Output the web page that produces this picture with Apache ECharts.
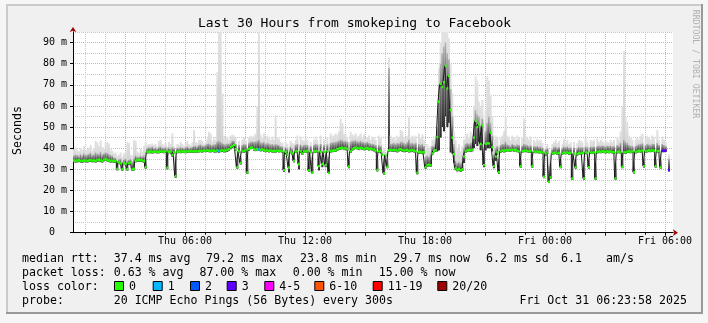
<!DOCTYPE html>
<html><head><meta charset="utf-8">
<script src="https://cdn.jsdelivr.net/npm/echarts@6/dist/echarts.min.js"></script>
<style>html,body{margin:0;padding:0;background:#f6f6f6}#c{width:708px;height:323px}</style>
</head><body><div id="c"></div>
<script>
// ---------------- data ----------------
const START_HOUR = 0.4;          // Thu 00:24
const END_HOUR = 30.4;           // Fri 06:24
const STEP_HOURS = 1 / 12;       // 300 s steps
const xMajorHours = [3,6,9,12,15,18,21,24,27,30];
const xMinorHours = [1,2,4,5,7,8,10,11,13,14,16,17,19,20,22,23,25,26,28,29];
const xLabelHours = [6,12,18,24,30];
const xLabelText = ['Thu 06:00','Thu 12:00','Thu 18:00','Fri 00:00','Fri 06:00'];
const yMajor = [0,10,20,30,40,50,60,70,80,90];
const yMinor = [5,15,25,35,45,55,65,75,85,95];

const medianMs = [
34.2,34.0,34.1,34.3,34.0,33.9,34.2,34.1,34.0,34.2,34.3,34.1,
34.2,34.0,34.3,34.5,34.2,34.0,34.6,35.0,34.5,34.2,34.0,34.1,
34.0,33.8,30.2,33.2,32.8,30.0,33.0,32.5,30.1,32.8,33.2,30.0,
30.3,34.0,34.4,34.5,34.3,34.2,33.8,31.0,38.2,38.3,38.4,38.3,
38.3,38.4,38.2,38.3,38.5,38.4,38.3,38.5,30.8,38.3,38.4,36.8,
38.0,26.8,38.3,38.4,38.3,38.5,38.4,38.3,38.5,38.4,38.6,38.5,
38.5,38.6,38.4,38.7,38.8,38.6,38.9,38.8,39.0,38.8,38.7,38.9,
38.8,38.6,38.9,38.7,38.8,39.0,38.8,38.9,39.2,39.5,40.5,41.0,
41.5,39.5,31.0,38.5,33.0,38.8,38.5,39.0,28.5,39.5,40.2,40.3,
39.5,39.3,39.6,39.4,39.2,39.5,39.0,38.8,39.0,38.7,38.9,38.6,
38.8,38.6,38.9,38.7,38.8,38.5,29.6,38.2,37.0,30.8,38.3,37.5,
34.0,38.4,38.6,32.5,38.5,37.5,38.6,38.4,38.7,29.5,38.2,28.5,
38.4,38.6,38.5,31.5,38.3,32.5,38.4,32.0,38.5,28.3,38.6,38.8,
38.9,39.0,39.5,39.8,40.0,40.2,39.8,40.0,39.6,31.3,38.5,39.5,
40.0,40.3,40.1,39.8,40.2,40.0,39.7,39.9,40.1,39.6,39.8,39.5,
39.3,38.8,29.7,38.5,38.7,37.0,28.1,36.8,31.2,38.9,39.2,39.0,
39.2,39.0,38.8,39.3,39.5,39.1,38.9,39.0,39.2,38.8,38.9,39.1,
38.8,38.5,28.4,38.2,38.3,38.0,38.1,31.0,32.0,32.2,32.0,37.5,
38.8,39.0,45.3,62.0,70.4,69.0,71.2,79.0,68.3,74.2,58.1,45.0,
37.2,30.5,29.8,30.2,29.6,30.0,36.0,38.5,39.0,39.2,39.0,39.3,
45.0,53.0,50.0,51.3,42.0,50.8,32.0,42.0,42.3,42.3,47.3,40.5,
31.5,36.0,38.0,28.6,38.5,39.0,38.8,39.0,39.2,38.9,39.1,39.3,
39.0,39.2,38.8,38.5,31.5,38.6,38.8,38.9,38.7,38.5,38.6,31.5,
38.5,38.3,38.4,38.2,38.3,38.0,26.5,37.5,38.0,24.1,26.2,37.5,
37.8,38.0,37.5,37.8,31.2,37.5,38.0,37.8,38.0,37.6,37.8,25.7,
37.5,31.0,37.2,37.8,37.5,37.8,25.7,38.0,37.8,31.0,38.0,37.9,
38.0,25.7,38.2,38.4,38.3,38.5,38.4,38.2,38.5,38.3,38.4,38.2,
38.0,25.7,38.2,38.4,38.0,31.2,38.0,38.0,38.4,38.5,38.3,38.5,
28.6,38.2,38.5,38.8,38.6,38.9,31.5,38.5,38.7,39.0,38.8,39.0,
38.8,31.5,38.6,38.7,31.0,38.8,38.8,38.9,null,29.7,null,null
];

const smokeLoMs = [
33.4,33.2,33.3,33.5,33.2,33.1,33.4,33.3,33.2,33.4,33.5,33.3,
33.4,33.2,33.5,33.7,33.4,33.2,33.8,34.2,33.7,33.4,33.2,33.3,
33.2,33.0,29.5,32.5,32.0,29.3,32.3,31.8,29.4,32.0,32.5,29.3,
29.5,33.3,33.6,33.7,33.5,33.4,33.0,30.3,37.5,37.6,37.6,37.5,
37.6,37.7,37.5,37.6,37.8,37.7,37.6,37.8,30.0,37.6,37.7,36.0,
37.4,26.0,37.6,37.7,37.6,37.8,37.7,37.6,37.8,37.7,37.9,37.8,
37.8,37.9,37.7,38.0,38.1,37.9,38.2,38.1,38.3,38.1,38.0,38.2,
38.0,37.9,38.1,37.9,38.1,38.2,38.0,38.1,38.3,38.7,39.5,40.0,
40.5,38.7,30.3,37.8,32.3,38.0,37.8,38.2,27.8,38.7,39.5,39.6,
38.8,38.6,38.9,38.7,38.5,38.8,38.3,38.1,38.3,38.0,38.2,37.9,
38.0,37.9,38.2,38.0,38.1,37.8,28.8,37.5,36.3,28.5,37.6,36.8,
33.3,37.7,37.9,30.0,37.8,36.8,37.9,37.7,38.0,28.8,37.6,28.0,
37.7,37.9,37.8,29.5,37.6,31.0,37.7,31.0,37.8,27.8,37.9,38.1,
38.2,38.3,38.8,39.1,39.3,39.5,39.1,39.3,38.9,30.5,37.8,38.8,
39.3,39.6,39.4,39.1,39.5,39.3,39.0,39.2,39.4,38.9,39.1,38.8,
38.5,38.0,29.0,37.8,38.0,36.3,27.5,36.0,30.5,38.2,38.5,38.3,
38.4,38.2,38.0,38.5,38.7,38.3,38.1,38.2,38.4,38.0,38.1,38.3,
38.0,37.8,27.6,37.4,37.5,37.2,37.3,30.2,31.2,31.4,31.2,36.7,
38.0,38.2,38.5,39.0,45.0,50.0,48.0,55.0,50.0,52.0,38.0,37.5,
33.0,29.6,29.0,29.4,28.8,29.2,33.0,37.8,38.3,38.5,38.2,38.5,
40.0,42.0,41.0,43.0,39.0,42.0,31.0,39.0,40.0,40.0,40.0,38.5,
30.5,34.0,37.0,27.8,37.8,38.2,38.0,38.3,38.5,38.2,38.4,38.6,
38.3,38.5,38.1,37.8,30.8,37.9,38.1,38.2,38.0,37.8,37.9,30.8,
37.8,37.6,37.7,37.5,37.6,37.3,25.8,36.5,37.3,23.5,25.5,36.8,
37.1,37.3,36.8,37.1,30.5,36.8,37.3,37.1,37.3,36.9,37.1,25.0,
36.8,30.3,36.5,37.1,36.8,37.1,25.0,37.3,37.1,30.3,37.3,37.2,
37.3,25.0,37.5,37.7,37.6,37.8,37.7,37.5,37.8,37.6,37.7,37.5,
37.3,25.0,37.5,37.7,37.3,30.5,37.3,37.3,37.7,37.8,37.6,37.8,
28.0,37.5,37.8,38.1,37.9,38.2,30.8,37.8,38.0,38.3,38.1,38.3,
38.1,30.8,37.9,38.0,30.3,38.1,38.1,38.2,null,29.0,null,null
];

const smokeDarkMs = [
36.5,37.0,36.8,36.2,37.2,36.5,37.5,36.8,37.0,37.3,37.8,36.9,
37.0,38.0,37.5,37.2,38.2,37.0,37.5,38.0,37.8,37.2,36.8,36.5,
35.5,35.5,34.0,34.8,35.0,33.5,34.5,35.0,34.0,34.5,34.8,33.5,
35.0,36.5,36.0,35.8,36.5,36.0,36.5,35.0,40.0,40.5,40.2,40.8,
40.0,40.3,39.8,40.5,40.8,40.2,40.0,40.5,40.0,40.3,39.8,40.5,
40.0,36.0,40.2,40.0,40.5,40.3,40.0,40.4,40.8,40.2,40.3,40.6,
41.0,41.2,40.8,41.5,41.8,41.2,41.0,41.5,42.0,42.2,41.8,41.5,
41.8,42.0,43.0,43.5,43.0,42.5,42.0,41.8,42.2,42.0,42.5,43.5,
43.5,42.0,36.0,41.5,36.0,41.5,42.0,41.8,36.0,42.5,43.0,43.2,
43.0,43.2,43.5,44.0,42.8,42.5,43.0,42.0,42.5,42.2,41.8,42.0,
41.5,42.0,41.8,41.5,41.0,40.8,36.0,40.5,40.0,36.5,40.8,40.0,
38.0,41.5,42.0,37.0,41.8,41.0,41.5,41.8,41.5,36.0,41.0,36.0,
41.5,42.0,41.8,36.5,42.0,37.0,41.5,37.0,41.8,36.0,42.5,42.8,
42.8,43.0,43.2,43.5,44.0,43.8,43.2,43.5,43.0,36.0,43.0,43.5,
43.5,43.8,43.2,43.0,43.5,43.0,42.8,42.5,43.0,42.5,42.2,42.0,
42.0,41.5,35.0,41.5,41.0,38.0,35.0,36.5,35.0,78.0,42.0,42.2,
42.5,42.0,42.5,42.2,43.0,43.0,42.5,42.0,42.8,44.0,42.2,42.5,
42.0,42.5,35.0,42.0,41.5,42.0,41.0,36.0,36.5,36.0,37.0,41.0,
41.0,42.0,50.0,70.0,80.0,85.0,88.0,90.0,85.0,82.0,68.0,55.0,
42.0,34.0,33.0,33.5,33.0,33.5,40.0,42.0,42.5,42.0,42.5,42.8,
52.0,58.0,56.0,55.0,50.0,54.0,40.0,48.0,52.0,55.0,52.0,46.0,
37.0,40.0,41.0,35.0,41.5,42.0,42.0,43.0,41.8,41.5,41.0,42.0,
41.5,41.2,41.8,41.5,35.0,41.2,42.0,41.8,41.5,41.0,41.3,35.0,
41.0,40.8,41.0,40.5,40.8,40.2,34.0,39.5,40.0,32.0,33.0,39.5,
40.5,40.8,40.2,40.5,34.5,40.0,40.8,40.5,40.8,40.2,40.4,33.0,
40.3,35.0,40.0,40.6,40.4,40.5,33.0,40.8,40.5,35.0,40.8,40.6,
40.8,33.0,41.0,41.2,41.0,41.3,41.0,40.8,41.2,41.0,41.2,40.8,
41.0,33.0,41.5,41.2,42.5,38.0,44.0,43.0,42.5,41.5,41.2,41.0,
34.0,41.0,41.5,41.8,42.0,42.3,35.0,41.5,42.0,41.8,41.5,42.0,
42.0,35.0,42.5,41.5,34.5,42.0,41.5,41.0,null,35.0,null,null
];

const smokeHiMs = [
39.5,40.5,39.0,38.5,40.0,39.2,41.0,38.8,39.5,40.2,41.5,39.0,
40.0,43.5,42.8,41.0,43.7,40.5,39.8,42.5,43.0,42.2,39.5,38.8,
37.5,38.0,36.5,37.0,38.0,36.0,37.5,38.5,43.0,42.5,37.0,36.5,
44.0,43.5,38.5,37.8,40.0,38.5,41.0,43.0,41.5,42.0,41.8,42.3,
41.5,42.0,41.0,43.5,44.0,42.0,41.5,42.5,41.0,43.0,42.0,47.2,
41.0,38.5,42.0,41.5,43.0,42.0,41.0,42.5,43.5,42.0,41.5,42.8,
48.6,43.0,42.5,44.0,44.0,43.5,42.0,43.0,44.5,47.8,47.0,43.5,
45.0,44.0,76.0,95.0,95.0,66.0,46.0,44.5,45.5,44.0,46.0,46.5,
46.0,45.0,40.0,43.5,39.0,44.0,45.0,44.0,38.5,45.0,46.0,45.5,
46.0,47.0,60.0,95.0,46.5,45.0,47.0,44.5,46.0,45.0,44.0,45.5,
44.0,55.7,45.0,44.5,43.0,42.5,40.0,43.0,42.0,40.0,43.5,42.5,
42.0,44.0,46.0,41.0,45.5,44.0,43.5,45.0,44.0,38.5,43.0,38.0,
44.0,45.5,44.0,39.0,46.0,40.0,44.5,39.5,45.0,38.5,47.0,46.0,
46.0,47.0,46.5,48.0,54.0,52.0,47.0,46.5,45.0,38.5,47.8,46.5,
46.0,47.0,45.5,46.0,47.0,45.0,46.5,44.5,45.0,46.0,44.0,45.5,
45.0,44.0,38.0,46.0,45.0,38.5,40.0,37.5,38.0,83.0,46.0,45.0,
45.0,44.0,46.0,45.0,48.6,48.0,45.0,44.5,46.0,54.7,45.0,46.0,
45.0,46.0,39.0,47.0,45.0,46.5,44.0,40.0,42.0,40.5,41.0,44.0,
44.0,46.0,55.0,78.0,90.0,95.0,95.0,95.0,95.0,92.0,80.0,66.0,
48.0,44.0,40.0,42.0,38.5,41.0,44.0,46.0,47.0,45.0,48.0,46.0,
60.0,74.0,72.0,62.0,60.0,62.8,48.0,58.0,74.0,72.0,65.0,55.0,
44.0,46.0,45.0,38.0,45.0,46.0,48.0,55.0,46.0,45.0,44.0,46.0,
45.0,44.0,46.0,45.0,39.0,45.0,54.0,46.0,45.0,44.0,45.5,38.5,
44.0,43.0,44.5,43.5,44.0,42.5,38.0,41.0,42.0,36.0,38.0,42.0,
43.0,44.0,42.5,43.5,38.0,42.0,44.5,43.0,44.0,42.0,43.0,37.0,
43.0,38.0,42.5,44.0,43.5,43.0,37.0,44.5,43.0,38.0,44.0,43.5,
44.0,37.0,44.5,43.0,44.0,43.5,42.5,44.0,43.0,42.5,44.0,43.0,
44.0,37.0,45.0,44.0,48.0,60.0,86.0,55.0,52.5,46.0,45.0,44.0,
37.0,44.0,45.0,44.0,46.0,47.0,39.0,44.5,46.0,45.0,44.0,46.0,
45.0,38.0,48.6,44.0,37.5,45.5,44.0,43.0,null,37.0,null,null
];

// steps with packet loss (index into the arrays above) and lost pings
const lossSteps  = [87, 111, 353, 354, 355, 357];
const lossCounts = [1,  1,   3,   3,   3,   3];

const lossLegendLabels = ['0','1','2','3','4-5','6-10','11-19','20/20'];
const lossColors = ['#26ff00','#00b8ff','#0059ff','#5e00ff','#ff00ff','#ff5500','#ff0000','#a10000'];

const titleText = 'Last 30 Hours from smokeping to Facebook';
const yAxisTitle = 'Seconds';
const watermark = 'RRDTOOL / TOBI OETIKER';
const rttRow = ['median rtt:','37.4 ms avg','79.2 ms max','23.8 ms min','29.7 ms now','6.2 ms sd','6.1','am/s'];
const lossRow = ['packet loss:','0.63 % avg','87.00 % max','0.00 % min','15.00 % now'];
const colorRowLabel = 'loss color:';
const probeRow = ['probe:','20 ICMP Echo Pings (56 Bytes) every 300s','Fri Oct 31 06:23:58 2025'];

// ---------------- build ----------------
function lossBucket(n){
  if (n === 0) return 0; if (n === 1) return 1; if (n === 2) return 2; if (n === 3) return 3;
  if (n <= 5) return 4; if (n <= 10) return 5; if (n <= 19) return 6; return 7;
}
const lossByStep = medianMs.map(() => 0);
lossSteps.forEach((s, k) => { lossByStep[s] = lossCounts[k]; });

const smokeData = medianMs.map((m, i) => [START_HOUR + i * STEP_HOURS, smokeLoMs[i], smokeDarkMs[i], smokeHiMs[i]]);
const lineData = medianMs.map((m, i) => [START_HOUR + (i + 0.5) * STEP_HOURS, m]);
const markData = medianMs.map((m, i) => [START_HOUR + i * STEP_HOURS, m, lossBucket(lossByStep[i])]);

const MONO = '"DejaVu Sans Mono", "Liberation Mono", monospace';

function smokeItem(params, api) {
  const t = api.value(0), lo = api.value(1), dk = api.value(2), hi = api.value(3);
  if (isNaN(lo) || isNaN(hi)) return null;
  const a = api.coord([t, hi]);
  const b = api.coord([t + STEP_HOURS, lo]);
  const c = api.coord([t, dk]);
  const w = b[0] - a[0] + 0.35;
  return { type: 'group', children: [
    { type: 'rect', shape: { x: a[0], y: a[1], width: w, height: b[1] - a[1] },
      style: { fill: new echarts.graphic.LinearGradient(0, 0, 0, 1, [
        { offset: 0, color: '#e2e2e2' }, { offset: 1, color: '#cdcdcd' }]) } },
    { type: 'rect', shape: { x: a[0], y: c[1], width: w, height: b[1] - c[1] },
      style: { fill: new echarts.graphic.LinearGradient(0, 0, 0, 1, [
        { offset: 0, color: '#b4b4b4' }, { offset: 0.45, color: '#6a6a6a' }, { offset: 1, color: '#2a2a2a' }]) } }
  ]};
}
function markItem(params, api) {
  const t = api.value(0), m = api.value(1), c = api.value(2);
  if (isNaN(m)) return null;
  const a = api.coord([t, m]);
  const b = api.coord([t + STEP_HOURS, m]);
  return { type: 'rect', shape: { x: a[0], y: a[1] - 1.2, width: b[0] - a[0] + 0.3, height: 2.4 },
           style: { fill: lossColors[c] } };
}

const graphics = [
  { type: 'rect', z: -20, silent: true, shape: { x: 0, y: 0, width: 708, height: 323 }, style: { fill: '#f6f6f6' } },
  { type: 'rect', z: -19, silent: true, shape: { x: 6, y: 4, width: 697, height: 310 }, style: { fill: '#f0f0f0' } },
  { type: 'rect', z: -18, silent: true, shape: { x: 6, y: 4, width: 697, height: 2 }, style: { fill: '#cbcbcb' } },
  { type: 'rect', z: -18, silent: true, shape: { x: 6, y: 4, width: 2, height: 310 }, style: { fill: '#cbcbcb' } },
  { type: 'rect', z: -18, silent: true, shape: { x: 6, y: 312, width: 697, height: 2 }, style: { fill: '#999999' } },
  { type: 'rect', z: -18, silent: true, shape: { x: 701, y: 4, width: 2, height: 310 }, style: { fill: '#999999' } },
  { type: 'text', x: 354.5, y: 23.2, style: { text: titleText, font: '13px ' + MONO, fill: '#000', align: 'center', verticalAlign: 'middle' } },
  { type: 'text', x: 17.7, y: 130.5, rotation: Math.PI / 2, style: { text: yAxisTitle, font: '11.6px ' + MONO, fill: '#000', align: 'center', verticalAlign: 'middle' } },
  { type: 'text', x: 695, y: 64, rotation: -Math.PI / 2, style: { text: watermark, font: '8.2px ' + MONO, fill: '#b0b0b0', align: 'center', verticalAlign: 'middle' } }
];
const LEG_FONT = '11.6px ' + MONO;
function addRow(texts, xs, y) {
  texts.forEach((t, k) => graphics.push({ type: 'text', x: xs[k], y: y,
    style: { text: t, font: LEG_FONT, fill: '#000', align: 'left', verticalAlign: 'middle' } }));
}
addRow(rttRow, [22, 113.7, 206, 300, 393.3, 486, 561, 606], 259.2);
addRow(lossRow, [22, 113.7, 199.4, 292.7, 378.7], 273.2);
addRow([colorRowLabel], [22], 287.1);
addRow(probeRow, [22, 113.7, 519.4], 301.2);
const swX = [114, 152.7, 190, 226.7, 264.3, 314.3, 372.7, 437.3];
lossLegendLabels.forEach((lab, k) => {
  graphics.push({ type: 'rect', shape: { x: swX[k] + 0.5, y: 281.5, width: 9, height: 9 },
    style: { fill: lossColors[k], stroke: '#000', lineWidth: 1 } });
  graphics.push({ type: 'text', x: swX[k] + 15, y: 287.1,
    style: { text: lab, font: LEG_FONT, fill: '#000', align: 'left', verticalAlign: 'middle' } });
});

const axisCommonX = { type: 'value', min: START_HOUR, max: END_HOUR, position: 'bottom', gridIndex: 0 };
const axisCommonY = { type: 'value', min: 0, max: 95, position: 'left', gridIndex: 0 };

const option = {
  animation: false,
  backgroundColor: 'transparent',
  grid: { left: 73, top: 32, width: 600, height: 200.7, show: true, backgroundColor: '#ffffff', borderWidth: 0 },
  graphic: graphics,
  xAxis: [
    Object.assign({}, axisCommonX, {
      axisLine: { show: true, lineStyle: { color: '#000', width: 1 } },
      axisTick: { show: true, length: 3, customValues: xMajorHours, lineStyle: { color: '#000' } },
      axisLabel: { show: true, customValues: xLabelHours, margin: 4,
        formatter: v => xLabelText[xLabelHours.indexOf(Math.round(v))] || '',
        fontFamily: MONO, fontSize: 10, color: '#000' },
      splitLine: { show: true, lineStyle: { color: '#ff9d9d', width: 1, type: [1, 1] } }
    }),
    Object.assign({}, axisCommonX, {
      axisLine: { show: false },
      axisTick: { show: true, length: 2, customValues: xMinorHours, lineStyle: { color: '#000' } },
      axisLabel: { show: false },
      splitLine: { show: true, lineStyle: { color: '#c6c6c6', width: 1, type: [1, 1] } }
    }),
    Object.assign({}, axisCommonX, {
      z: -1,
      axisLine: { show: true, symbol: ['none', 'arrow'], symbolSize: [5, 5], symbolOffset: [0, 5],
        lineStyle: { color: '#a00000', width: 1 } },
      axisTick: { show: false }, axisLabel: { show: false }, splitLine: { show: false }
    })
  ],
  yAxis: [
    Object.assign({}, axisCommonY, {
      axisLine: { show: true, lineStyle: { color: '#000', width: 1 } },
      axisTick: { show: true, length: 3, customValues: yMajor, lineStyle: { color: '#000' } },
      axisLabel: { show: true, customValues: yMajor, margin: 6,
        formatter: v => (v === 0 ? '0  ' : v + ' m'),
        fontFamily: MONO, fontSize: 10, color: '#000' },
      splitLine: { show: true, lineStyle: { color: '#ff9d9d', width: 1, type: [1, 1] } }
    }),
    Object.assign({}, axisCommonY, {
      axisLine: { show: false },
      axisTick: { show: false, customValues: yMinor },
      axisLabel: { show: false },
      splitLine: { show: true, lineStyle: { color: '#c6c6c6', width: 1, type: [1, 1] } }
    }),
    Object.assign({}, axisCommonY, {
      z: -1,
      axisLine: { show: true, symbol: ['none', 'arrow'], symbolSize: [5, 5], symbolOffset: [0, 5],
        lineStyle: { color: '#a00000', width: 1 } },
      axisTick: { show: false }, axisLabel: { show: false }, splitLine: { show: false }
    })
  ],
  series: [
    { type: 'custom', name: 'smoke', xAxisIndex: 0, yAxisIndex: 0, renderItem: smokeItem,
      data: smokeData, encode: { x: 0, y: [1, 3] }, z: 2, silent: true },
    { type: 'line', name: 'median', xAxisIndex: 0, yAxisIndex: 0, data: lineData, step: 'middle',
      showSymbol: false, symbol: 'none', connectNulls: false,
      lineStyle: { color: '#1a1a1a', width: 1 }, z: 3, silent: true },
    { type: 'custom', name: 'loss', xAxisIndex: 0, yAxisIndex: 0, renderItem: markItem,
      data: markData, encode: { x: 0, y: 1 }, z: 4, silent: true }
  ]
};

const chart = echarts.init(document.getElementById('c'), null, { renderer: 'canvas', width: 708, height: 323 });
chart.setOption(option);
</script>
</body></html>
